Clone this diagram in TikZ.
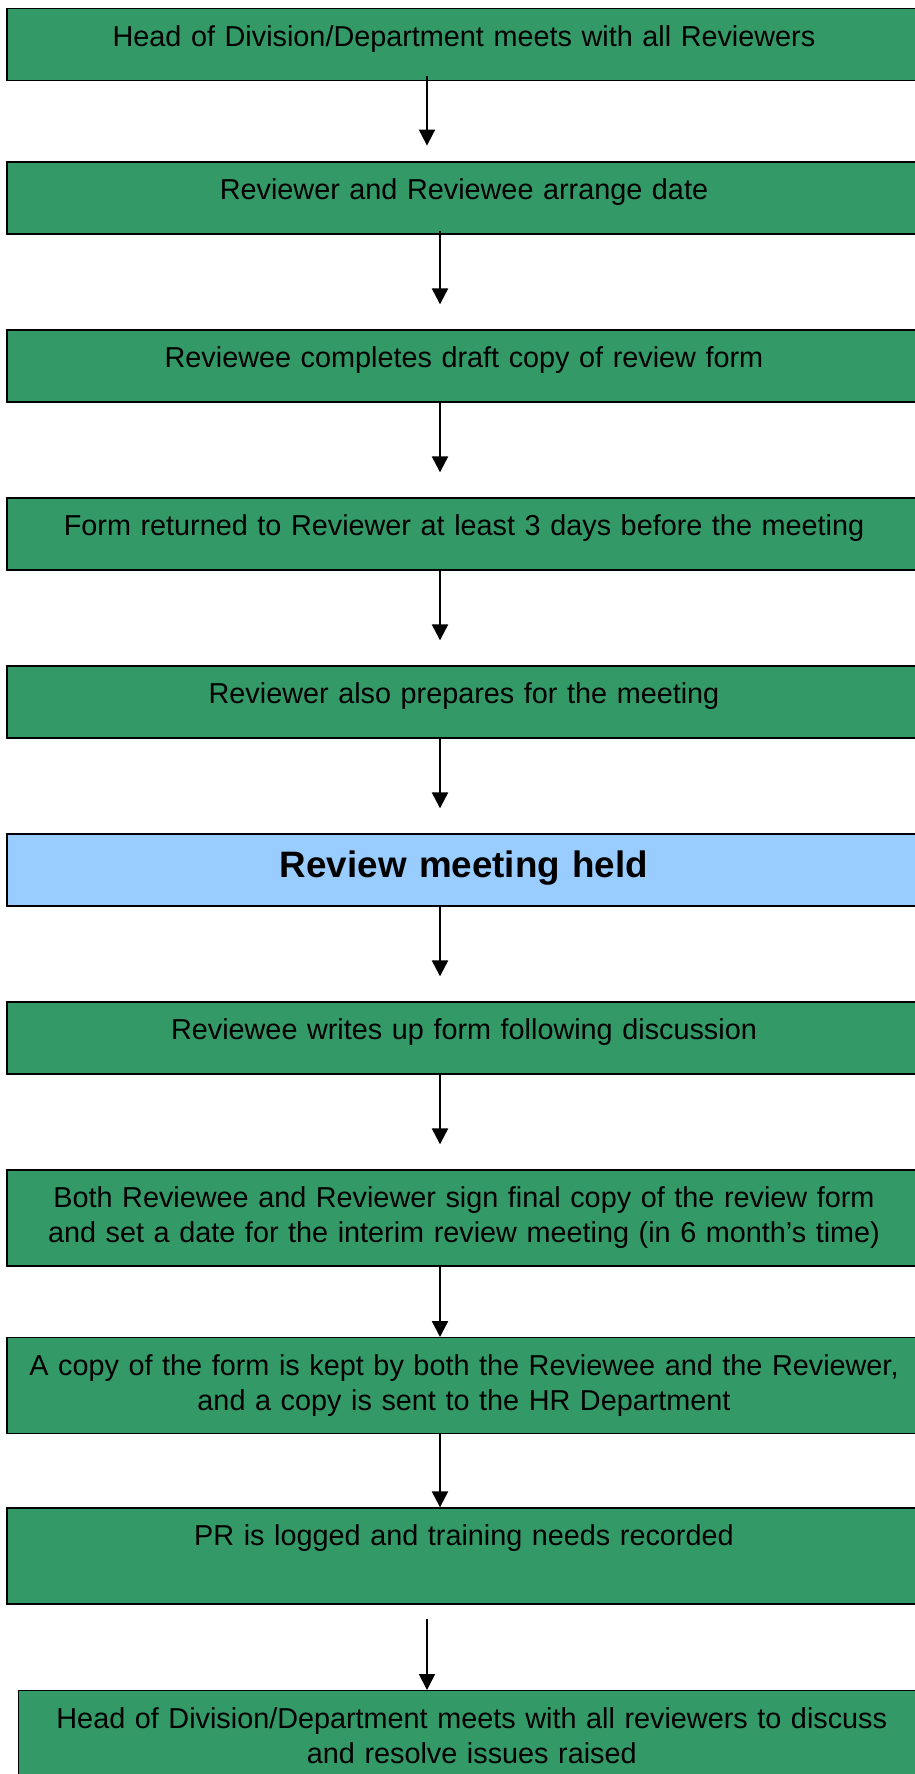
\documentclass[tikz,border=0pt]{standalone}
\usepackage{fontspec}
\setmainfont{Liberation Sans}
\usetikzlibrary{arrows.meta}
\definecolor{seagreen}{HTML}{339966}
\definecolor{paleblue}{HTML}{99CCFF}

\begin{document}
\begin{tikzpicture}[
    node distance=84pt,
    box/.style={rectangle, draw, line width=0.6pt, fill=seagreen, text width=450pt, minimum width=457pt, align=center, inner xsep=3.5pt, inner ysep=0pt, text height=19pt, text depth=17pt, font=\fontsize{14.4}{17.3}\selectfont},
    tallbox/.style={box, text depth=29pt},
    arrow/.style={-{Triangle[width=8pt,length=8pt]}, line width=1.15pt, shorten >=12.5pt},
    thinarrow/.style={arrow, line width=0.85pt}
]
    \useasboundingbox (0,0) rectangle (457.5pt,-887pt);
    \clip (0,0) rectangle (457.5pt,-887pt);

    \node[box] (b1) at (232pt,-22.15pt) {Head of Division/Department meets with all Reviewers};
    \node[box, below of=b1, node distance=76.8pt] (b2) {Reviewer and Reviewee arrange date};
    \node[box, below of=b2] (b3) {Reviewee completes draft copy of review form};
    \node[box, below of=b3] (b4) {Form returned to Reviewer at least 3 days before the meeting};
    \node[box, below of=b4] (b5) {Reviewer also prepares for the meeting};
    \node[box, below of=b5, fill=paleblue, text height=22pt, text depth=14pt, font=\fontsize{18.4}{22}\selectfont\bfseries] (b6) {Review meeting held};
    \node[box, below of=b6] (b7) {Reviewee writes up form following discussion};
    \node[tallbox, below of=b7, node distance=90pt] (b8) {Both Reviewee and Reviewer sign final copy of the review form\\and set a date for the interim review meeting (in 6 month’s time)};
    \node[tallbox, below of=b8, node distance=83.85pt] (b9) {A copy of the form is kept by both the Reviewee and the Reviewer,\\and a copy is sent to the HR Department};
    \node[tallbox, below of=b9, node distance=85.15pt] (b10) {PR is logged and training needs recorded};
    \node[tallbox, below of=b10, node distance=91.35pt, xshift=3.9pt, text width=446pt, minimum width=453pt] (b11) {Head of Division/Department meets with all reviewers to discuss\\and resolve issues raised};

    \draw[thinarrow, shorten <=-2.65pt, shorten >=7.85pt] ([xshift=-18.5pt]b1.south) -- ([xshift=-18.5pt]b1.south |- b2.north);
    \draw[arrow, shorten <=-1.65pt] ([xshift=-12pt]b2.south) -- ([xshift=-12pt]b2.south |- b3.north);
    \draw[arrow] ([xshift=-12pt]b3.south) -- ([xshift=-12pt]b3.south |- b4.north);
    \draw[arrow] ([xshift=-12pt]b4.south) -- ([xshift=-12pt]b4.south |- b5.north);
    \draw[arrow] ([xshift=-12pt]b5.south) -- ([xshift=-12pt]b5.south |- b6.north);
    \draw[arrow] ([xshift=-12pt]b6.south) -- ([xshift=-12pt]b6.south |- b7.north);
    \draw[arrow] ([xshift=-12pt]b7.south) -- ([xshift=-12pt]b7.south |- b8.north);
    \draw[arrow, shorten >=0pt] ([xshift=-12pt]b8.south) -- ([xshift=-12pt]b8.south |- b9.north);
    \draw[arrow, shorten >=0pt] ([xshift=-12pt]b9.south) -- ([xshift=-12pt]b9.south |- b10.north);
    \draw[thinarrow, shorten <=7pt, shorten >=0pt] ([xshift=-18.5pt]b10.south) -- ([xshift=-18.5pt]b10.south |- b11.north);
\end{tikzpicture}
\end{document}
